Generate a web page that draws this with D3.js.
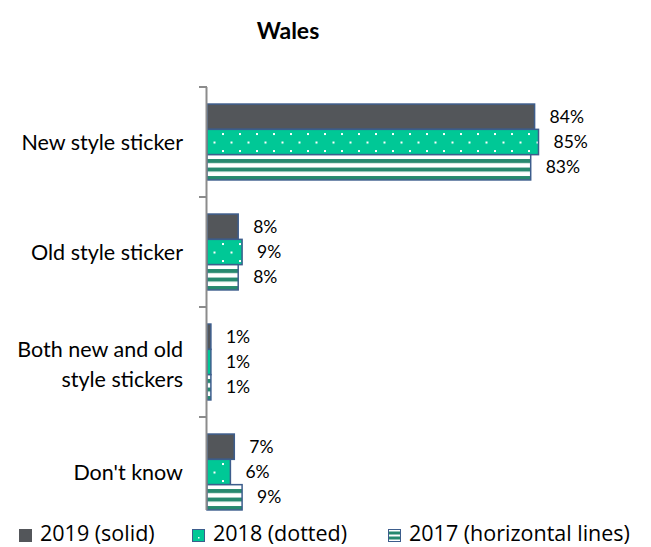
<!DOCTYPE html>
<html>
<head>
<meta charset="utf-8">
<script src="https://cdn.jsdelivr.net/npm/d3@7"></script>
<style>
  html, body { margin: 0; padding: 0; background: #fff; }
  svg { display: block; }
</style>
</head>
<body>
<svg id="chart" width="651" height="547"></svg>
<script>
// Sticker type recalled, Wales, by survey year
const categories = ["New style sticker", "Old style sticker", "Both new and old style stickers", "Don't know"];
const categoryLines = [["New style sticker"], ["Old style sticker"], ["Both new and old", "style stickers"], ["Don't know"]];
const years = ["2019", "2018", "2017"];
const legendLabels = ["2019 (solid)", "2018 (dotted)", "2017 (horizontal lines)"];
const values2019 = [84, 8, 1, 7];
const values2018 = [85, 9, 1, 6];
const values2017 = [83, 8, 1, 9];
const title = "Wales";

const seriesValues = [values2019, values2018, values2017];

const svg = d3.select("#chart");
const defs = svg.append("defs");

// Fill patterns
const dots = defs.append("pattern").attr("id", "dots")
  .attr("patternUnits", "userSpaceOnUse").attr("width", 17).attr("height", 17)
  .attr("x", 0).attr("y", 131);
dots.append("rect").attr("width", 17).attr("height", 17).attr("fill", "#00C896");
dots.append("rect").attr("x", 1).attr("y", 0).attr("width", 2).attr("height", 2).attr("fill", "#fff");
dots.append("rect").attr("x", 9.5).attr("y", 8.5).attr("width", 2).attr("height", 2).attr("fill", "#fff");

const lines = defs.append("pattern").attr("id", "hlines")
  .attr("patternUnits", "userSpaceOnUse").attr("width", 8).attr("height", 8.5)
  .attr("x", 0).attr("y", 157);
lines.append("rect").attr("width", 8).attr("height", 8.5).attr("fill", "#fff");
lines.append("rect").attr("y", 0).attr("width", 8).attr("height", 4).attr("fill", "#27896F");

const fills = ["#53565A", "url(#dots)", "url(#hlines)"];
const legendFills = ["#53565A", "#00C896", "#fff"];
const strokeColor = "#3D5D8C";

const margin = { left: 207, top: 87 };
const bandStep = 110;

const x = d3.scaleLinear().domain([0, 100]).range([margin.left, margin.left + 390]);
const y = d3.scaleBand().domain(categories)
  .range([margin.top, margin.top + bandStep * categories.length])
  .paddingInner(0.31).paddingOuter(0.155);
const ySub = d3.scaleBand().domain(years).range([0, y.bandwidth()]);

// Title
svg.append("text").attr("x", 288).attr("y", 39)
  .attr("text-anchor", "middle")
  .attr("font-family", "Lato, 'Open Sans', sans-serif")
  .attr("font-weight", "bold").attr("font-size", 23)
  .attr("fill", "#000").text(title);

// Bars
const groups = svg.append("g").selectAll("g").data(categories).join("g")
  .attr("transform", d => `translate(0,${y(d)})`);

years.forEach((yr, si) => {
  groups.append("rect")
    .attr("x", x(0))
    .attr("y", ySub(yr))
    .attr("width", (d, i) => x(seriesValues[si][i]) - x(0))
    .attr("height", ySub.bandwidth())
    .attr("fill", fills[si])
    .attr("stroke", strokeColor)
    .attr("stroke-width", 1.5);

  groups.append("text")
    .attr("x", (d, i) => x(seriesValues[si][i]) + 15)
    .attr("y", ySub(yr) + ySub.bandwidth() / 2)
    .attr("dy", "0.35em")
    .attr("font-family", "Lato, sans-serif")
    .attr("font-size", 17.5)
    .attr("fill", "#000")
    .text((d, i) => seriesValues[si][i] + "%");
});

// Category axis
const axisG = svg.append("g");
axisG.append("line")
  .attr("x1", x(0) - 0.5).attr("x2", x(0) - 0.5)
  .attr("y1", margin.top).attr("y2", 510)
  .attr("stroke", "#8C8C8C").attr("stroke-width", 2);
categories.forEach((c, i) => {
  const ty = margin.top + i * bandStep;
  axisG.append("line")
    .attr("x1", x(0) - 8).attr("x2", x(0))
    .attr("y1", ty).attr("y2", ty)
    .attr("stroke", "#8C8C8C").attr("stroke-width", 2);
});

const labels = svg.append("g").selectAll("text").data(categories).join("text")
  .attr("text-anchor", "end")
  .attr("font-family", "Lato, sans-serif")
  .attr("font-size", 21.5)
  .attr("fill", "#000")
  .attr("x", 183)
  .attr("y", d => y(d) + y.bandwidth() / 2);
labels.each(function(d, i) {
  const ls = categoryLines[i];
  const lh = 30;
  const cy = y(d) + y.bandwidth() / 2 + (ls.length > 1 ? 2 : 0);
  d3.select(this).selectAll("tspan").data(ls).join("tspan")
    .attr("x", 183)
    .attr("y", (l, j) => cy + (j - (ls.length - 1) / 2) * lh)
    .attr("dy", "0.35em")
    .text(l => l);
});

// Legend
const legendX = [19, 192, 388];
const legend = svg.append("g");
legendLabels.forEach((lab, i) => {
  const g = legend.append("g").attr("transform", `translate(${legendX[i]},529)`);
  g.append("rect").attr("x", 0.5).attr("y", 0.5).attr("width", 12).attr("height", 12)
    .attr("fill", legendFills[i]).attr("stroke", i === 0 ? "#53565A" : strokeColor).attr("stroke-width", 1);
  if (i === 1) {
    g.append("rect").attr("x", 6).attr("y", 8).attr("width", 1.5).attr("height", 1.5).attr("fill", "#fff");
  }
  if (i === 2) {
    [2.5, 7.5].forEach(yy => g.append("rect").attr("x", 1).attr("y", yy).attr("width", 11).attr("height", 3).attr("fill", "#27896F"));
  }
  g.append("text").attr("x", 21).attr("y", 12)
    .attr("font-family", "'Open Sans', sans-serif")
    .attr("font-size", 21.5)
    .attr("fill", "#000").text(lab);
});
</script>
</body>
</html>
